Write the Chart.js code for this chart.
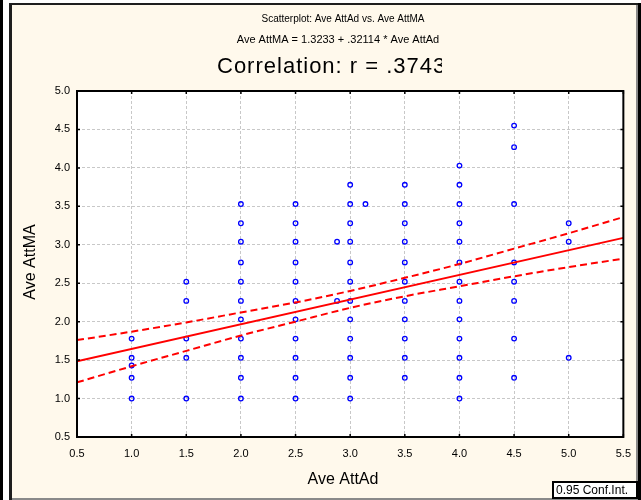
<!DOCTYPE html>
<html>
<head>
<meta charset="utf-8">
<script src="https://cdn.jsdelivr.net/npm/chart.js@4.4.0/dist/chart.umd.min.js"></script>
<style>
  html, body { margin: 0; padding: 0; background: #fff; }
  #wrap { width: 641px; height: 500px; }
</style>
</head>
<body>
<div id="wrap"><canvas id="scatter" width="641" height="500"></canvas></div>
<script>
// Scatterplot: Ave AttAd vs. Ave AttMA (Statistica-style look)

// ─── Data ────────────────────────────────────────────────────────────────────
const xTicks = [0.5, 1.0, 1.5, 2.0, 2.5, 3.0, 3.5, 4.0, 4.5, 5.0, 5.5];
const yTicks = [0.5, 1.0, 1.5, 2.0, 2.5, 3.0, 3.5, 4.0, 4.5, 5.0];

// Ave AttAd columns and the Ave AttMA values seen in each column
const attAdLevels = [1.0, 1.5, 2.0, 2.5, 3.0, 3.5, 4.0, 4.5, 5.0];
const attMA_10 = [1.00, 1.27, 1.43, 1.53, 1.78];
const attMA_15 = [1.00, 1.53, 1.78, 2.27, 2.52];
const attMA_20 = [1.00, 1.27, 1.53, 1.78, 2.03, 2.27, 2.52, 2.77, 3.04, 3.28, 3.53];
const attMA_25 = [1.00, 1.27, 1.53, 1.78, 2.03, 2.27, 2.52, 2.77, 3.04, 3.28, 3.53];
const attMA_30 = [1.00, 1.27, 1.53, 1.78, 2.03, 2.27, 2.52, 2.77, 3.04, 3.28, 3.53, 3.78];
const attMA_35 = [1.27, 1.53, 1.78, 2.03, 2.27, 2.52, 2.77, 3.04, 3.28, 3.53, 3.78];
const attMA_40 = [1.00, 1.27, 1.53, 1.78, 2.03, 2.27, 2.52, 2.77, 3.04, 3.28, 3.53, 3.78, 4.03];
const attMA_45 = [1.27, 1.78, 2.27, 2.52, 2.77, 3.53, 4.27, 4.55];
const attMA_50 = [1.53, 3.04, 3.28];
const attMAColumns = [attMA_10, attMA_15, attMA_20, attMA_25, attMA_30, attMA_35, attMA_40, attMA_45, attMA_50];

// the few cases that sit off the half-point columns
const offGridX = [2.88, 2.88, 3.14];
const offGridY = [2.27, 3.04, 3.53];

// regression line and 0.95 confidence band
const fitX = [0.5, 5.5];
const fitY = [1.484, 3.090];
const bandX     = [0.5, 1.0, 1.5, 2.0, 2.5, 3.0, 3.5, 4.0, 4.5, 5.0, 5.5];
const bandUpper = [1.76, 1.87, 1.99, 2.12, 2.25, 2.40, 2.57, 2.75, 2.95, 3.15, 3.36];
const bandLower = [1.21, 1.42, 1.62, 1.82, 2.00, 2.18, 2.33, 2.46, 2.59, 2.71, 2.82];

const headLines = [
  'Scatterplot: Ave AttAd vs. Ave AttMA',
  'Ave AttMA = 1.3233 + .32114 * Ave AttAd',
  'Correlation: r = .37432',
];
const xTitle = 'Ave AttAd';
const yTitle = 'Ave AttMA';
const legendText = '0.95 Conf.Int.';

// ─── Look ────────────────────────────────────────────────────────────────────
const FONT = '"Liberation Sans", Arial, sans-serif';
const CREAM = '#fff9ec';
const BLUE = '#0000ff';
const RED = '#ff0000';
const GRID = '#c8c8c8';

const pairs = (xs, ys) => xs.map((x, i) => ({ x, y: ys[i] }));

const points = [];
attAdLevels.forEach((lvl, i) => {
  attMAColumns[i].forEach(v => points.push({ x: lvl, y: v }));
});
offGridX.forEach((x, i) => points.push({ x, y: offGridY[i] }));

// frame, white plot area, headings, axis titles and the legend box
const statFrame = {
  id: 'statFrame',
  beforeDraw(chart) {
    const { ctx, width, height, chartArea: a } = chart;
    ctx.save();
    ctx.fillStyle = '#fff';
    ctx.fillRect(0, 0, width, height);
    ctx.fillStyle = CREAM;
    ctx.fillRect(12, 5, 624, 494);
    ctx.fillStyle = '#000';
    ctx.fillRect(0, 0, 3, height);
    ctx.fillStyle = '#1e1e1e';
    ctx.fillRect(9, 3, 3, height - 3);
    ctx.fillRect(9, 3, 629, 2);
    ctx.fillStyle = '#8a8a8a';
    ctx.fillRect(636, 5, 2, height - 5);
    ctx.fillRect(12, 498, 626, 2);
    ctx.fillStyle = '#000';
    ctx.fillRect(638, 3, 3, height - 3);
    ctx.fillStyle = '#fff';
    ctx.fillRect(a.left, a.top, a.right - a.left, a.bottom - a.top);
    ctx.restore();
  },
  afterDraw(chart) {
    const { ctx, chartArea: a, scales } = chart;
    ctx.save();

    // plot box with small inward ticks
    ctx.strokeStyle = '#000';
    ctx.lineWidth = 2;
    ctx.strokeRect(a.left, a.top, a.right - a.left, a.bottom - a.top);
    ctx.lineWidth = 1.5;
    ctx.beginPath();
    xTicks.forEach(v => {
      const px = scales.x.getPixelForValue(v);
      ctx.moveTo(px, a.top); ctx.lineTo(px, a.top + 3);
      ctx.moveTo(px, a.bottom); ctx.lineTo(px, a.bottom - 3);
    });
    yTicks.forEach(v => {
      const py = scales.y.getPixelForValue(v);
      ctx.moveTo(a.left, py); ctx.lineTo(a.left + 3, py);
      ctx.moveTo(a.right, py); ctx.lineTo(a.right - 3, py);
    });
    ctx.stroke();

    // headings
    ctx.fillStyle = '#000';
    ctx.textBaseline = 'middle';
    ctx.textAlign = 'center';
    ctx.font = `10px ${FONT}`;
    ctx.fillText(headLines[0], 343, 19);
    ctx.font = `11px ${FONT}`;
    ctx.fillText(headLines[1], 338, 40);
    ctx.save();
    ctx.beginPath();
    ctx.rect(0, 50, 442, 36);
    ctx.clip();
    ctx.textAlign = 'left';
    ctx.font = `22px ${FONT}`;
    ctx.letterSpacing = '1px';
    ctx.fillText(headLines[2], 217, 67);
    ctx.restore();

    // axis titles
    ctx.font = `16px ${FONT}`;
    ctx.fillText(xTitle, 343, 480);
    ctx.save();
    ctx.translate(31, 262);
    ctx.rotate(-Math.PI / 2);
    ctx.fillText(yTitle, 0, 0);
    ctx.restore();

    // legend box
    ctx.fillStyle = '#fff';
    ctx.fillRect(553, 482, 84, 16);
    ctx.strokeStyle = '#000';
    ctx.lineWidth = 2;
    ctx.strokeRect(553, 482, 84, 16);
    ctx.fillStyle = '#000';
    ctx.textAlign = 'left';
    ctx.font = `12px ${FONT}`;
    ctx.fillText(legendText, 556, 490.5);
    ctx.restore();
  },
};

const tickFont = { family: FONT, size: 11 };

new Chart(document.getElementById('scatter'), {
  type: 'scatter',
  data: {
    datasets: [
      {
        label: 'cases',
        data: points,
        pointRadius: 2.3,
        pointBorderWidth: 1.3,
        pointBorderColor: BLUE,
        pointBackgroundColor: 'rgba(255,255,255,0)',
        order: 1,
      },
      {
        label: 'fit',
        data: pairs(fitX, fitY),
        showLine: true,
        borderColor: RED,
        borderWidth: 2,
        pointRadius: 0,
        order: 0,
      },
      {
        label: 'upper',
        data: pairs(bandX, bandUpper),
        showLine: true,
        borderColor: RED,
        borderWidth: 2,
        borderDash: [7, 4],
        cubicInterpolationMode: 'monotone',
        pointRadius: 0,
        order: 0,
      },
      {
        label: 'lower',
        data: pairs(bandX, bandLower),
        showLine: true,
        borderColor: RED,
        borderWidth: 2,
        borderDash: [7, 4],
        cubicInterpolationMode: 'monotone',
        pointRadius: 0,
        order: 0,
      },
    ],
  },
  options: {
    responsive: false,
    animation: false,
    devicePixelRatio: 1,
    layout: { padding: { left: 0, top: 91, right: 17, bottom: 0 } },
    plugins: {
      legend: { display: false },
      title: { display: false },
      tooltip: { enabled: false },
    },
    scales: {
      x: {
        type: 'linear',
        min: 0.5,
        max: 5.5,
        afterBuildTicks: s => { s.ticks = xTicks.map(value => ({ value })); },
        afterFit: s => { s.height = 63; },
        ticks: {
          font: tickFont,
          color: '#000',
          padding: 10,
          maxRotation: 0,
          callback: v => Number(v).toFixed(1),
        },
        grid: { color: GRID, lineWidth: 1, drawTicks: false },
        border: { display: false, dash: [3, 2] },
      },
      y: {
        type: 'linear',
        min: 0.5,
        max: 5.0,
        afterBuildTicks: s => { s.ticks = yTicks.map(value => ({ value })); },
        afterFit: s => { s.width = 77; },
        ticks: {
          font: tickFont,
          color: '#000',
          padding: 7,
          callback: v => Number(v).toFixed(1),
        },
        grid: { color: GRID, lineWidth: 1, drawTicks: false },
        border: { display: false, dash: [3, 2] },
      },
    },
  },
  plugins: [statFrame],
});
</script>
</body>
</html>
